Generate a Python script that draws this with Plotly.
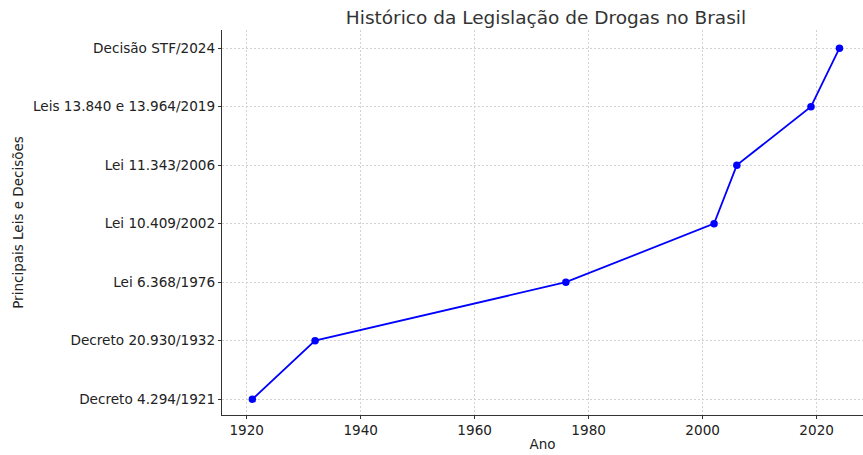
import plotly.graph_objects as go

anos = [1921, 1932, 1976, 2002, 2006, 2019, 2024]
leis = [
    "Decreto 4.294/1921",
    "Decreto 20.930/1932",
    "Lei 6.368/1976",
    "Lei 10.409/2002",
    "Lei 11.343/2006",
    "Leis 13.840 e 13.964/2019",
    "Decisão STF/2024",
]
x_ticks = [1920, 1940, 1960, 1980, 2000, 2020]

font_family = "DejaVu Sans, sans-serif"

fig = go.Figure()
fig.add_trace(go.Scatter(
    x=anos, y=leis, mode="lines+markers",
    line=dict(color="#0000ff", width=1.8),
    marker=dict(color="#0000ff", size=7.5),
    showlegend=False,
))

fig.update_layout(
    width=863, height=455,
    paper_bgcolor="white", plot_bgcolor="white",
    margin=dict(l=222, r=0, t=30, b=40, autoexpand=False),
    font=dict(family=font_family, size=13.6, color="#222222"),
    title=dict(text="Histórico da Legislação de Drogas no Brasil",
               x=546 / 863, xref="container", xanchor="center",
               y=1 - 18 / 455, yref="container", yanchor="middle",
               font=dict(size=18.5, color="#333333")),
)

fig.update_xaxes(
    range=[1915.67, 2028.13],
    tickvals=x_ticks,
    showgrid=True, gridcolor="#d2d2d2", griddash="2px,2px", gridwidth=0.8,
    showline=True, linecolor="#333333", linewidth=1.2, mirror=False,
    ticks="outside", ticklen=3, tickcolor="#333333",
    zeroline=False, automargin=False,
    title=dict(text="Ano", font=dict(size=13.5), standoff=2),
)
fig.update_yaxes(
    type="category", categoryorder="array", categoryarray=leis,
    range=[-0.27, 6.31],
    showgrid=True, gridcolor="#d2d2d2", griddash="2px,2px", gridwidth=0.8,
    showline=True, linecolor="#333333", linewidth=1.2, mirror=False,
    ticks="outside", ticklen=3, tickcolor="#333333",
    zeroline=False, automargin=False,
    title=dict(text="Principais Leis e Decisões", font=dict(size=13.5), standoff=6),
)

fig.write_html("out.html", config={"displayModeBar": False},
               post_script="document.body.style.margin='0';")
